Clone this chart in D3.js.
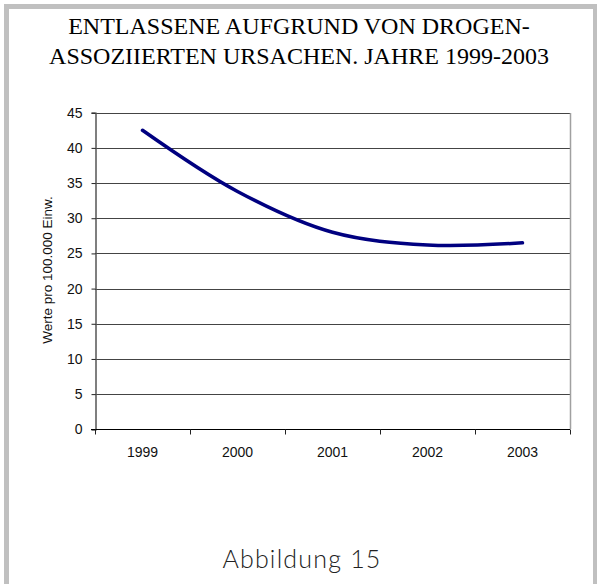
<!DOCTYPE html>
<html>
<head>
<meta charset="utf-8">
<script src="https://cdn.jsdelivr.net/npm/d3@7"></script>
<style>
  html, body { margin: 0; padding: 0; background: #fff; }
  svg { display: block; }
</style>
</head>
<body>
<script>
// Data: discharges with drug-associated causes, rate per 100,000 inhabitants
const years = ["1999", "2000", "2001", "2002", "2003"];
const rates = [42.5, 33.8, 28.0, 26.2, 26.5];
const yTicks = [0, 5, 10, 15, 20, 25, 30, 35, 40, 45];
const titleLines = ["ENTLASSENE AUFGRUND VON DROGEN-", "ASSOZIIERTEN URSACHEN. JAHRE 1999-2003"];
const yLabel = "Werte pro 100.000 Einw.";
const caption = "Abbildung 15";

const W = 597, H = 584;
const plot = { left: 95, right: 570, top: 112.7, bottom: 429.3 };

const svg = d3.select("body").append("svg")
  .attr("width", W).attr("height", H);

// outer frame
svg.append("rect")
  .attr("x", 6.5).attr("y", 6.5)
  .attr("width", 589).attr("height", 600)
  .attr("fill", "#fff")
  .attr("stroke", "#c0c0c0").attr("stroke-width", 5);

// title
svg.append("g").selectAll("text")
  .data(titleLines).join("text")
  .attr("x", 299).attr("y", (d, i) => 34 + i * 30)
  .attr("text-anchor", "middle")
  .attr("font-family", "'Liberation Serif', 'Times New Roman', serif")
  .attr("font-size", 24)
  .attr("fill", "#000")
  .text(d => d);

const x = d3.scaleBand().domain(years).range([plot.left, plot.right]).padding(0);
const y = d3.scaleLinear().domain([0, 45]).range([plot.bottom, plot.top]);

// horizontal gridlines
svg.append("g").selectAll("line")
  .data(yTicks.filter(t => t > 0)).join("line")
  .attr("x1", plot.left).attr("x2", plot.right)
  .attr("y1", d => Math.round(y(d)) + 0.5).attr("y2", d => Math.round(y(d)) + 0.5)
  .attr("stroke", "#444").attr("stroke-width", 1);

// right plot edge
svg.append("line")
  .attr("x1", plot.right + 0.5).attr("x2", plot.right + 0.5)
  .attr("y1", Math.round(plot.top)).attr("y2", Math.round(plot.bottom))
  .attr("stroke", "#a0a0a0").attr("stroke-width", 1.5);

// y axis
const yAxis = d3.axisLeft(y).tickValues(yTicks).tickSize(4).tickPadding(9);
const gy = svg.append("g")
  .attr("transform", `translate(${plot.left + 0.5},0)`)
  .call(yAxis);
gy.select(".domain").attr("stroke", "#555").attr("stroke-width", 1.5);
gy.selectAll(".tick line").attr("stroke", "#222");
gy.selectAll(".tick text")
  .attr("font-family", "'Liberation Sans', Arial, sans-serif")
  .attr("font-size", 14).attr("fill", "#111");

// x axis with ticks at category boundaries
const gx = svg.append("g")
  .attr("transform", `translate(0,${Math.round(plot.bottom) + 0.5})`);
gx.append("line")
  .attr("x1", plot.left - 4).attr("x2", plot.right)
  .attr("stroke", "#000").attr("stroke-width", 1.2);
const bounds = years.map(d => x(d)).concat([x(years[years.length - 1]) + x.bandwidth()]);
gx.selectAll("line.tick").data(bounds).join("line")
  .attr("class", "tick")
  .attr("x1", d => Math.round(d) + 0.5).attr("x2", d => Math.round(d) + 0.5)
  .attr("y1", 0).attr("y2", 5)
  .attr("stroke", "#222");
gx.selectAll("text").data(years).join("text")
  .attr("x", d => x(d) + x.bandwidth() / 2)
  .attr("y", 27)
  .attr("text-anchor", "middle")
  .attr("font-family", "'Liberation Sans', Arial, sans-serif")
  .attr("font-size", 14).attr("fill", "#111")
  .text(d => d);

// y axis title
svg.append("text")
  .attr("transform", `translate(52,270) rotate(-90)`)
  .attr("text-anchor", "middle")
  .attr("font-family", "'Liberation Sans', Arial, sans-serif")
  .attr("font-size", 13.5).attr("fill", "#111")
  .text(yLabel);

// smoothed series line
const line = d3.line()
  .x((d, i) => x(years[i]) + x.bandwidth() / 2)
  .y(d => y(d))
  .curve(d3.curveCatmullRom.alpha(0.5));
svg.append("path")
  .datum(rates)
  .attr("d", line)
  .attr("fill", "none")
  .attr("stroke", "#000080")
  .attr("stroke-width", 3.5)
  .attr("stroke-linecap", "round")
  .attr("stroke-linejoin", "round");

// caption
svg.append("text")
  .attr("x", 302).attr("y", 568)
  .attr("text-anchor", "middle")
  .attr("font-family", "Lato, 'Noto Sans', sans-serif")
  .attr("font-weight", 300)
  .attr("font-size", 25).attr("letter-spacing", 1.2).attr("fill", "#222")
  .text(caption);
</script>
</body>
</html>
